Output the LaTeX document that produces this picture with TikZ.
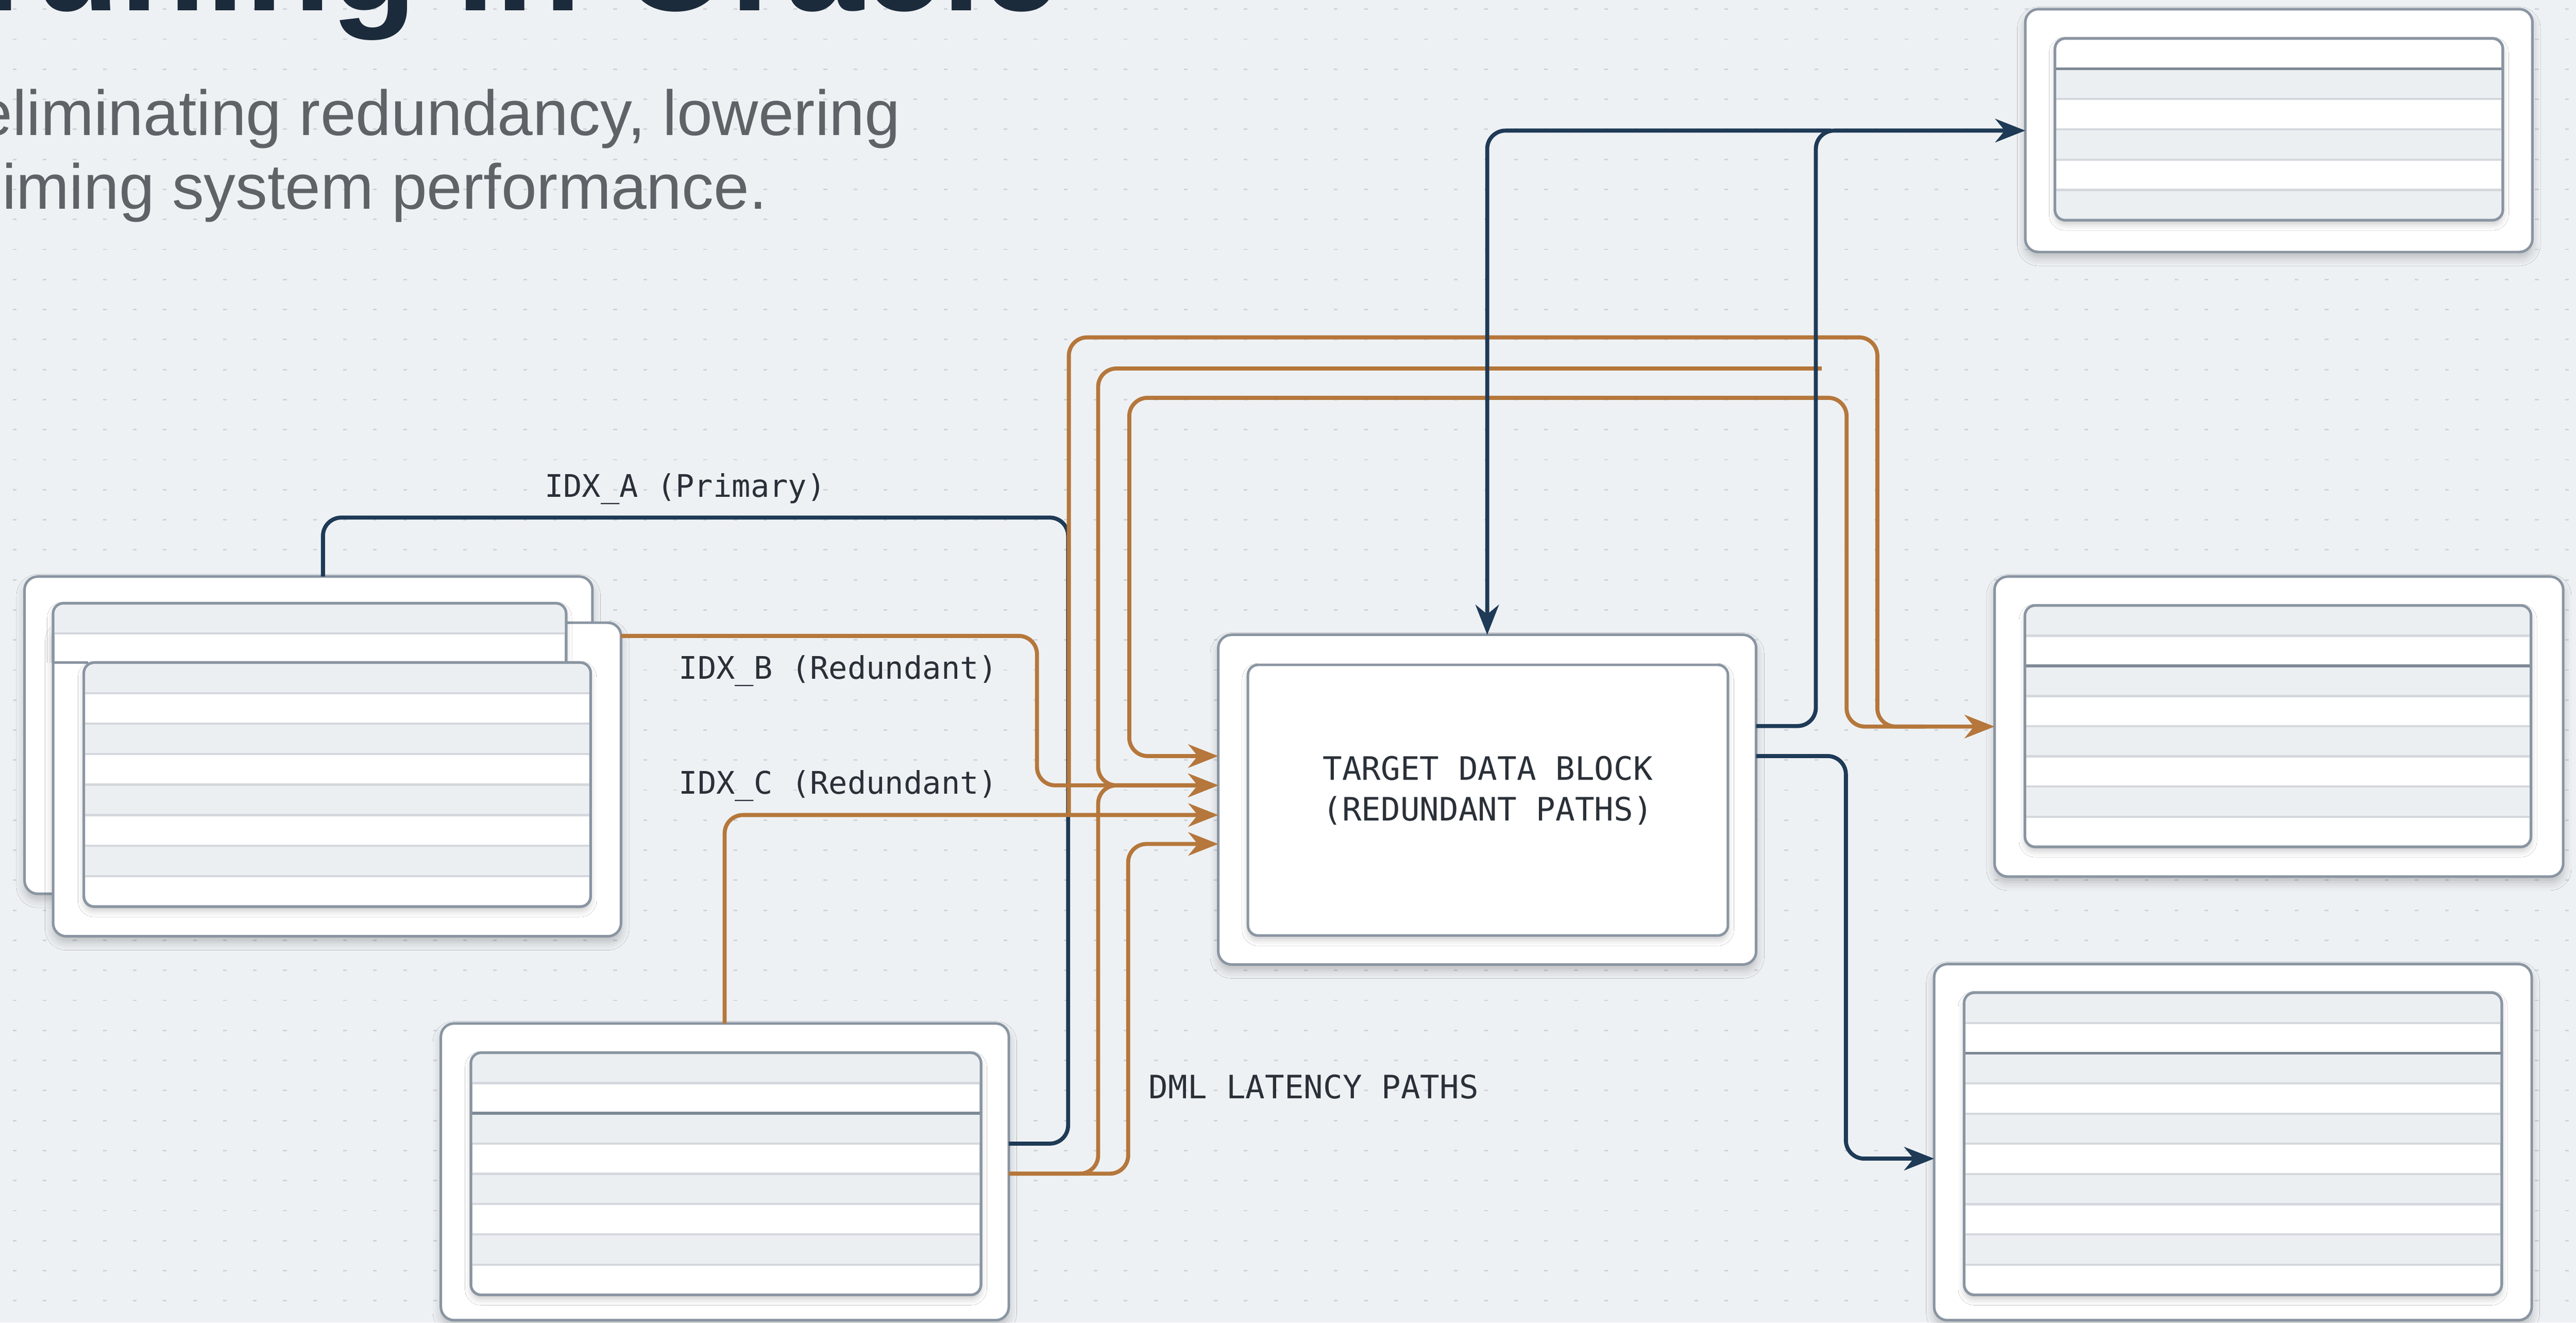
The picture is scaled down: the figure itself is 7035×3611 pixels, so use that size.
\documentclass[tikz,border=0pt]{standalone}
\usepackage{fontspec}
\setmainfont{Liberation Sans}
\newfontfamily\monof{DejaVu Sans Mono}
\usetikzlibrary{arrows.meta,shadows.blur,calc}
\definecolor{bgcol}{HTML}{EEF1F4}
\definecolor{dotcol}{HTML}{D0D4D9}
\definecolor{orng}{HTML}{B5773B}
\definecolor{navy}{HTML}{1E3A56}
\definecolor{bordc}{HTML}{8A95A2}
\definecolor{rowg}{HTML}{ECEFF2}
\definecolor{sepl}{HTML}{D4D8DD}
\definecolor{sepd}{HTML}{7E8996}
\definecolor{txtd}{HTML}{2A3038}
\definecolor{subg}{HTML}{5F6368}
\definecolor{ttl}{HTML}{1C2B3B}
\tikzset{
 card/.style={draw=bordc, line width=7pt, fill=white, rounded corners=36pt, inner sep=0pt, outer sep=0pt,
   blur shadow={shadow xshift=0pt, shadow yshift=-16pt, shadow blur radius=22pt, shadow opacity=22}},
 tblbox/.style={draw=bordc, line width=7pt, fill=white, rounded corners=28pt, inner sep=0pt, outer sep=0pt,
   blur shadow={shadow xshift=0pt, shadow yshift=-12pt, shadow blur radius=16pt, shadow opacity=20}},
 tblframe/.style={draw=bordc, line width=7pt, rounded corners=28pt},
 conn/.style={line width=11pt, rounded corners=50pt},
 oline/.style={conn, draw=orng},
 bline/.style={conn, draw=navy},
 tipx/.style={-{Stealth[length=82pt, width=64pt, inset=26pt]}},
 lbl/.style={font=\monof\fontsize{85}{100}\selectfont, text=txtd, inner sep=0pt, anchor=base west},
 ttxt/.style={font=\monof\fontsize{88}{100}\selectfont, text=txtd, inner sep=0pt, anchor=base},
}
\newcommand{\mktable}[8]{%
  \node[tblbox, minimum width={#4-#2}, minimum height={#5-#3}, anchor=north west] (#1) at (#2,#3) {};
  \begin{scope}
    \clip[rounded corners=28pt] (#2,#3) rectangle (#4,#5);
    \pgfmathsetmacro{\myrowh}{(#5-#3)/#6}
    \foreach \k in {1,...,#6} {
      \pgfmathtruncatemacro{\myisg}{mod(\k+#8,2)}
      \ifnum\myisg=0\relax
        \fill[rowg] (#2,{#3+(\k-1)*\myrowh}) rectangle (#4,{#3+\k*\myrowh});
      \fi
    }
    \pgfmathtruncatemacro{\mynl}{#6-1}
    \foreach \k in {1,...,\mynl} {
      \ifnum\k=#7\relax
        \draw[sepd, line width=8pt] (#2,{#3+\k*\myrowh}) -- (#4,{#3+\k*\myrowh});
      \else
        \draw[sepl, line width=6pt] (#2,{#3+\k*\myrowh}) -- (#4,{#3+\k*\myrowh});
      \fi
    }
  \end{scope}
  \draw[tblframe] (#2,#3) rectangle (#4,#5);
}
\begin{document}
\begin{tikzpicture}[x=1pt,y=-1pt]
\useasboundingbox (0,0) rectangle (7035,3611);
\clip (0,0) rectangle (7035,3611);
\fill[bgcol] (0,0) rectangle (7035,3611);
\foreach \x in {40,122,...,7035} {\foreach \y in {25,107,...,3611} {\fill[dotcol] (\x-5,\y-2) rectangle (\x+5,\y+2);}}

% title and subtitle
\node[anchor=base east, inner sep=0pt, text=ttl, font=\bfseries\fontsize{385}{400}\selectfont] (title) at (2894,29) {Tuning in Oracle};
\node[anchor=base east, inner sep=0pt, text=subg, font=\fontsize{174}{200}\selectfont] (sub1) at (2459,369) {eliminating redundancy, lowering};
\node[anchor=base east, inner sep=0pt, text=subg, font=\fontsize{174}{200}\selectfont] (sub2) at (2095,571) {iming system performance.};

% left stack
\node[card, minimum width=1551, minimum height=866, anchor=north west] (cardA) at (67,1574) {};
\node[card, minimum width=1551, minimum height=856, anchor=north west] (cardB) at (145,1700) {};
\begin{scope}
  \clip (0,0) rectangle (7035,1809);
  \mktable{cardAin}{145}{1647}{1546}{1975}{4}{0}{1}
\end{scope}
\draw[bordc, line width=7pt] (145,1809) -- (240,1809);
\mktable{cardBin}{229}{1809}{1613}{2475}{8}{0}{1}

% bottom table
\node[card, minimum width=1551, minimum height=810, anchor=north west] (t4) at (1204,2794) {};
\mktable{t4in}{1286}{2874}{2679}{3535}{8}{2}{1}

% target
\node[card, minimum width=1469, minimum height=900, anchor=north west] (target) at (3327,1733) {};
\node[tblbox, minimum width=1311, minimum height=739, anchor=north west] (targetin) at (3408,1815) {};
\node[ttxt] (tt1) at (4063,2130) {TARGET DATA BLOCK};
\node[ttxt] (tt2) at (4063,2240) {(REDUNDANT PATHS)};

% right tables
\node[card, minimum width=1385, minimum height=663, anchor=north west] (t1) at (5531,25) {};
\mktable{t1in}{5612}{105}{6835}{601}{6}{1}{0}
\node[card, minimum width=1553, minimum height=819, anchor=north west] (t2) at (5447,1574) {};
\mktable{t2in}{5530}{1653}{6912}{2312}{8}{2}{1}
\node[card, minimum width=1632, minimum height=972, anchor=north west] (t3) at (5282,2632) {};
\mktable{t3in}{5364}{2710}{6832}{3535}{10}{2}{1}

% connectors
\draw[bline] ([xshift=815pt]cardA.north west) |- (2917,1413) |- ([yshift=-328pt]t4.north east);

\coordinate (j1) at ([xshift=-408pt,yshift=-42pt]target.west);
\draw[oline, tipx] (j1) |- (5127,921) |- (t2.west);
\coordinate (j3) at ([xshift=-190pt]t2.west);
\draw[oline, tipx] (j3) -| (5043,1086) -| (3084,2064) -- ([yshift=119pt]target.west);
\coordinate (j2) at (4975,1006);
\draw[oline, tipx] (j2) -| (2999,2144) -- ([yshift=39pt]target.west);

\draw[oline, tipx] ([yshift=-36pt]cardB.north east) -| (2832,2144) -- ([yshift=39pt]target.west);
\draw[oline, tipx] ([xshift=775pt]t4.north west) |- ([yshift=-42pt]target.west);
\draw[oline, tipx] ([yshift=-410pt]t4.north east) -| (2999,2144) -- ([yshift=39pt]target.west);
\draw[oline, tipx] ([yshift=-410pt]t4.north east) -| (3081,2304) -- ([yshift=-121pt]target.west);

\draw[bline, tipx] ([yshift=201pt]target.east) -| (4959,356.5) -- (t1.west);
\coordinate (j0) at ([xshift=-530pt]t1.west);
\draw[bline, tipx] (j0) -| (target.north);
\draw[bline, tipx] ([yshift=119pt]target.east) -| (5041,3163) -- ([yshift=-45pt]t3.west);

% labels
\node[lbl] (la) at (1487,1357) {IDX\_A (Primary)};
\node[lbl] (lb) at (1854,1853) {IDX\_B (Redundant)};
\node[lbl] (lc) at (1854,2168) {IDX\_C (Redundant)};
\node[lbl, font=\monof\fontsize{88}{100}\selectfont] (ld) at (3137,2999) {DML LATENCY PATHS};
\end{tikzpicture}
\end{document}
